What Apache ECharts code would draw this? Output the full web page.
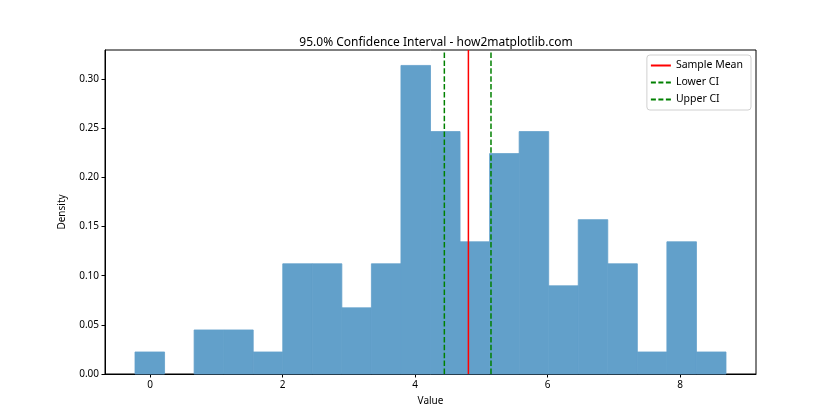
<!DOCTYPE html>
<html>
<head>
<meta charset="utf-8">
<script src="https://cdn.jsdelivr.net/npm/echarts@6/dist/echarts.min.js"></script>
<style>
  html, body { margin: 0; padding: 0; background: #fff; }
  #chart { width: 840px; height: 420px; }
</style>
</head>
<body>
<div id="chart"></div>
<script>
    const binEdges = [-0.226, 0.220, 0.666, 1.112, 1.558, 2.004, 2.450, 2.896, 3.342, 3.788, 4.234,
        4.680, 5.126, 5.572, 6.018, 6.464, 6.910, 7.356, 7.802, 8.248, 8.694];
    const densities = [0.0224, 0, 0.0448, 0.0448, 0.0224, 0.1121, 0.1121, 0.0673, 0.1121, 0.3139,
        0.2466, 0.1345, 0.2242, 0.2466, 0.0897, 0.1570, 0.1121, 0.0224, 0.1345, 0.0224];
    const sampleMean = 4.806;
    const lowerCI = 4.443;
    const upperCI = 5.147;
    const xTicks = [0, 2, 4, 6, 8];
    const yTicks = [0, 0.05, 0.10, 0.15, 0.20, 0.25, 0.30];
    const xRange = [-0.679, 9.147];
    const yRange = [0, 0.3296];

    const font = "'Noto Sans', 'DejaVu Sans', sans-serif";
    const barColor = "#62a0ca"; // tab:blue at alpha 0.7 on white
    const bins = densities.map((d, i) => [binEdges[i], binEdges[i + 1], d]);

    const solidIcon = "path://M0,0h20v2h-20z";
    const dashIcon = "path://M0,0h5v2h-5z M7.5,0h5v2h-5z M15,0h5v2h-5z";

    const chart = echarts.init(document.getElementById("chart"), null, { renderer: "canvas" });
    chart.setOption({
        animation: false,
        backgroundColor: "#fff",
        textStyle: { fontFamily: font },
        title: {
            text: "95.0% Confidence Interval - how2matplotlib.com",
            left: 431, top: 32, textAlign: "center",
            textStyle: { fontSize: 12, fontWeight: "normal", color: "#000", fontFamily: font }
        },
        grid: { left: 105, right: 84, top: 50, bottom: 46, show: true, borderColor: "#000", borderWidth: 1 },
        legend: {
            right: 89, top: 55, orient: "vertical",
            backgroundColor: "#fff", borderColor: "#d0d0d0", borderWidth: 1, borderRadius: 3,
            padding: [5, 8, 5, 4], itemGap: 6, itemWidth: 20, itemHeight: 2,
            textStyle: { fontSize: 10.5, color: "#000", fontFamily: font },
            data: [
                { name: "Sample Mean", icon: solidIcon, itemStyle: { color: "#ff0000" } },
                { name: "Lower CI", icon: dashIcon, itemStyle: { color: "#008000" } },
                { name: "Upper CI", icon: dashIcon, itemStyle: { color: "#008000" } }
            ]
        },
        xAxis: {
            type: "value", min: xRange[0], max: xRange[1],
            name: "Value", nameLocation: "middle", nameGap: 22,
            nameTextStyle: { fontSize: 10, color: "#000", fontFamily: font },
            axisLine: { show: true, onZero: false, lineStyle: { color: "#000" } },
            axisTick: { show: true, length: 3.5, customValues: xTicks, lineStyle: { color: "#000" } },
            axisLabel: { customValues: xTicks, fontSize: 10, color: "#000", margin: 6, fontFamily: font },
            splitLine: { show: false }
        },
        yAxis: {
            type: "value", min: yRange[0], max: yRange[1],
            name: "Density", nameLocation: "middle", nameGap: 38,
            nameTextStyle: { fontSize: 10, color: "#000", fontFamily: font },
            axisLine: { show: true, onZero: false, lineStyle: { color: "#000" } },
            axisTick: { show: true, length: 3.5, customValues: yTicks, lineStyle: { color: "#000" } },
            axisLabel: {
                customValues: yTicks, fontSize: 10, color: "#000", margin: 6, fontFamily: font,
                formatter: (v) => v.toFixed(2)
            },
            splitLine: { show: false }
        },
        series: [
            {
                type: "custom",
                name: "hist",
                data: bins,
                encode: { x: [0, 1], y: 2 },
                renderItem: (params, api) => {
                    if (!(api.value(2) > 0)) return null;
                    const p0 = api.coord([api.value(0), 0]);
                    const p1 = api.coord([api.value(1), api.value(2)]);
                    return {
                        type: "rect",
                        shape: { x: p0[0], y: p1[1], width: p1[0] - p0[0], height: p0[1] - p1[1] },
                        style: { fill: barColor, stroke: barColor, lineWidth: 0.8 }
                    };
                }
            },
            {
                type: "line", name: "Sample Mean", symbol: "none",
                data: [[sampleMean, yRange[0]], [sampleMean, yRange[1]]],
                lineStyle: { color: "#ff0000", width: 1.5 }, itemStyle: { color: "#ff0000" }
            },
            {
                type: "line", name: "Lower CI", symbol: "none",
                data: [[lowerCI, yRange[0]], [lowerCI, yRange[1]]],
                lineStyle: { color: "#008000", width: 1.5, type: [5.5, 2.4] }, itemStyle: { color: "#008000" }
            },
            {
                type: "line", name: "Upper CI", symbol: "none",
                data: [[upperCI, yRange[0]], [upperCI, yRange[1]]],
                lineStyle: { color: "#008000", width: 1.5, type: [5.5, 2.4] }, itemStyle: { color: "#008000" }
            }
        ]
    });

    window.addEventListener("resize", () => chart.resize());
</script>
</body>
</html>
